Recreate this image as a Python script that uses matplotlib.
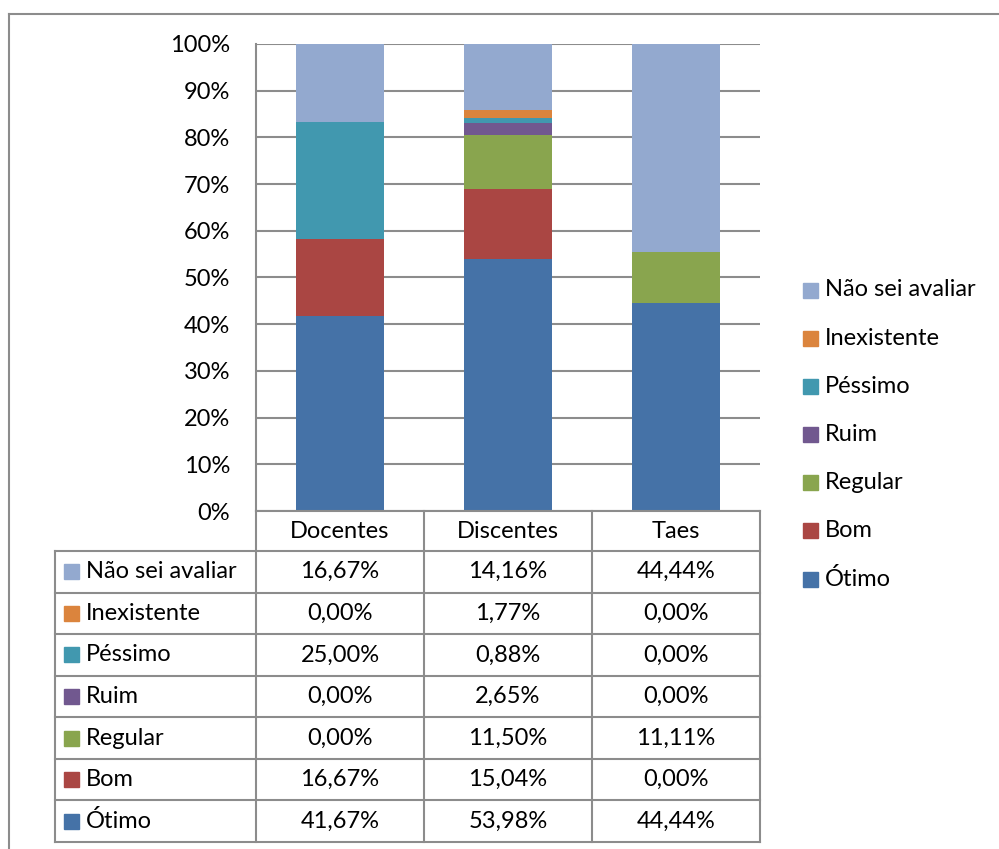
import matplotlib
matplotlib.use("Agg")
import matplotlib.pyplot as plt
from matplotlib.lines import Line2D
from matplotlib.patches import Rectangle

plt.rcParams['font.family'] = ['Lato', 'DejaVu Sans']

groups = ["Docentes", "Discentes", "Taes"]
series = ["Ótimo", "Bom", "Regular", "Ruim", "Péssimo", "Inexistente", "Não sei avaliar"]
otimo = [41.67, 53.98, 44.44]
bom = [16.67, 15.04, 0.00]
regular = [0.00, 11.50, 11.11]
ruim = [0.00, 2.65, 0.00]
pessimo = [25.00, 0.88, 0.00]
inexistente = [0.00, 1.77, 0.00]
nao_sei = [16.67, 14.16, 44.44]
values = [otimo, bom, regular, ruim, pessimo, inexistente, nao_sei]
colors = ["#4572A7", "#AA4643", "#89A54E", "#71588F", "#4198AF", "#DB843D", "#93A9CF"]
yticks = [0, 10, 20, 30, 40, 50, 60, 70, 80, 90, 100]

W, H = 999, 849
fig = plt.figure(figsize=(W / 100, H / 100), dpi=100)

def fx(x):
    return x / W

def fy(y):
    return 1 - y / H

GRID = "#8c8c8c"
FS = 17

# plot area
x0, x1, ytop, ybot = 256, 760, 44, 511
ax = fig.add_axes([fx(x0), fy(ybot), fx(x1) - fx(x0), fy(ytop) - fy(ybot)])
bottom = [0, 0, 0]
xs = range(len(groups))
for vals, col in zip(values, colors):
    ax.bar(xs, vals, width=0.52, bottom=bottom, color=col, zorder=3)
    bottom = [b + v for b, v in zip(bottom, vals)]
ax.set_xlim(-0.5, 2.5)
ax.set_ylim(0, 100)
ax.set_yticks(yticks)
ax.set_yticklabels([f"{t}%" for t in yticks], fontsize=FS)
ax.tick_params(axis='y', length=0, pad=18.5)
ax.set_xticks([])
for s in ["top", "right", "bottom"]:
    ax.spines[s].set_visible(False)
ax.spines["left"].set_color(GRID)
ax.spines["left"].set_linewidth(1.5)
ax.grid(axis='y', color=GRID, linewidth=1.5, zorder=0)

# outer border
fig.add_artist(Line2D([fx(9), fx(9)], [fy(14), fy(849)], color=GRID, lw=1.5))
fig.add_artist(Line2D([fx(9), fx(998)], [fy(14), fy(14)], color=GRID, lw=1.5))

# table
col_x = [55, 256, 424, 592, 760]
head_top, head_bot = 511, 551
row_h = (842 - 551) / 7
row_tops = [551 + i * row_h for i in range(8)]

def hline(xa, xb, y):
    fig.add_artist(Line2D([fx(xa), fx(xb)], [fy(y), fy(y)], color=GRID, lw=1.5))

def vline(x, ya, yb):
    fig.add_artist(Line2D([fx(x), fx(x)], [fy(ya), fy(yb)], color=GRID, lw=1.5))

hline(256, 760, head_top)
for y in row_tops:
    hline(55, 760, y)
vline(55, 551, 842)
for x in col_x[1:]:
    vline(x, 511, 842)

for i, g in enumerate(groups):
    cx = (col_x[i + 1] + col_x[i + 2]) / 2
    fig.text(fx(cx), fy((head_top + head_bot) / 2), g, ha='center', va='center', fontsize=FS)

order = list(reversed(range(len(series))))
for r, si in enumerate(order):
    cy = (row_tops[r] + row_tops[r + 1]) / 2
    fig.add_artist(Rectangle((fx(64), fy(cy + 7.5)), fx(15), 15 / H, color=colors[si]))
    fig.text(fx(86), fy(cy), series[si], ha='left', va='center', fontsize=FS)
    for i in range(len(groups)):
        cx = (col_x[i + 1] + col_x[i + 2]) / 2
        txt = f"{values[si][i]:.2f}%".replace(".", ",")
        fig.text(fx(cx), fy(cy), txt, ha='center', va='center', fontsize=FS)

# legend
leg_y0 = 290
leg_dy = (579 - 290) / 6
for k, si in enumerate(order):
    cy = leg_y0 + k * leg_dy
    fig.add_artist(Rectangle((fx(803), fy(cy + 7.5)), fx(15), 15 / H, color=colors[si]))
    fig.text(fx(825), fy(cy), series[si], ha='left', va='center', fontsize=FS)

fig.savefig("out.png", dpi=100)
